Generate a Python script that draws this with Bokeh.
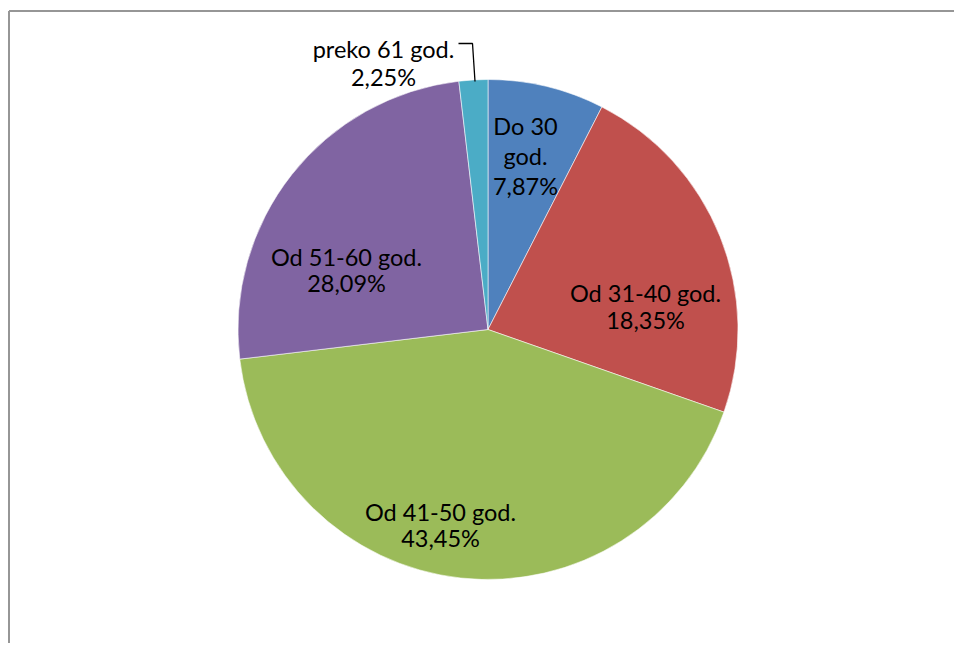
import math
from bokeh.plotting import figure
from bokeh.models import ColumnDataSource, Range1d
from bokeh.core.properties import value
from bokeh.embed import file_html
from bokeh.resources import INLINE

# ---- data ----
categories = ["Do 30 god.", "Od 31-40 god.", "Od 41-50 god.", "Od 51-60 god.", "preko 61 god."]
label_pcts = ["7,87%", "18,35%", "43,45%", "28,09%", "2,25%"]
# slice shares as drawn in the picture (percent of the circle)
slice_shares = [7.53, 22.83, 42.75, 25.03, 1.86]
colors = ["#4F81BD", "#C0504D", "#9BBB59", "#8064A2", "#4BACC6"]

W, H = 954, 643
def py(page_y):
    return H - page_y
def px(page_x):
    return page_x

cx, cy, R = px(487.5), py(329), 250

total = sum(slice_shares)
starts, ends = [], []
cum = 0.0
for s in slice_shares:
    a0 = cum / total * 2 * math.pi
    cum += s
    a1 = cum / total * 2 * math.pi
    # clockwise from top -> bokeh ccw angles
    starts.append(math.pi / 2 - a1)
    ends.append(math.pi / 2 - a0)

src = ColumnDataSource(dict(x=[cx] * len(categories), y=[cy] * len(categories),
                            start=starts, end=ends, color=colors, cat=categories))

p = figure(width=W, height=H, output_backend="svg", toolbar_location=None,
           x_range=Range1d(0, W), y_range=Range1d(0, H),
           x_axis_location=None, y_axis_location=None, min_border=0)
p.grid.visible = False
p.outline_line_color = None
p.background_fill_color = "white"
p.border_fill_color = "white"

p.wedge(x="x", y="y", radius=R, start_angle="start", end_angle="end",
        fill_color="color", line_color="white", line_width=0.8, line_alpha=0.7, source=src)

# chart frame (left and top edges visible)
p.line([px(8.5), px(8.5)], [0, py(10.5)], line_color="#969696", line_width=2)
p.line([px(8.5), W], [py(10.5), py(10.5)], line_color="#969696", line_width=2)

# leader line for small slice
p.line([px(458), px(472), px(474.5)], [py(43), py(43), py(81)], line_color="black", line_width=1.3)

# labels: (slice index, center x, baselines)
label_layout = [
    (0, 525, [125, 155, 185], ["Do 30", "god.", None]),
    (1, 645, [292, 319], ["Od 31-40 god.", None]),
    (2, 440, [511, 537], ["Od 41-50 god.", None]),
    (3, 346, [256, 282], ["Od 51-60 god.", None]),
    (4, 383, [48, 76.5], ["preko 61 god.", None]),
]
tx, ty, tt = [], [], []
for idx, xc, bases, lines in label_layout:
    for b, ln in zip(bases, lines):
        tx.append(px(xc))
        ty.append(py(b))
        tt.append(label_pcts[idx] if ln is None else ln)

p.text(x=tx, y=ty, text=tt, text_font=value("Lato"), text_font_size="23.5px",
       text_align="center", text_baseline="alphabetic", text_color="black")

open("out.html", "w").write(file_html(p, INLINE))
